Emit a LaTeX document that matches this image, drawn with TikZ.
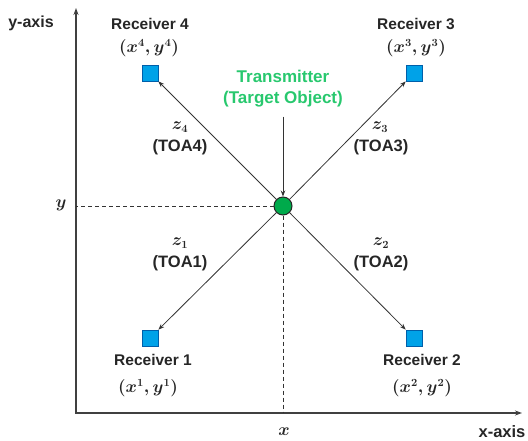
\documentclass[tikz,border=0pt]{standalone}
\usepackage{fontspec}
\setmainfont{Liberation Sans}
\usetikzlibrary{arrows.meta}
\definecolor{txgreen}{RGB}{40,200,110}
\definecolor{txfill}{RGB}{0,170,75}
\definecolor{rxblue}{RGB}{0,162,232}
\definecolor{rxborder}{RGB}{0,95,170}
\begin{document}
\begin{tikzpicture}[x=1pt,y=-1pt,
  lbl/.style={font=\fontsize{15.5}{17}\selectfont\bfseries, inner sep=0, text=black!85},
  toa/.style={font=\fontsize{16.5}{18}\selectfont\bfseries, inner sep=0, text=black!85},
  mth/.style={font=\fontsize{16}{18}\selectfont\boldmath, inner sep=0, text=black!85},
  rx/.style={draw=rxborder, fill=rxblue, minimum size=16pt, inner sep=0, line width=0.8pt},
  sig/.style={-{Stealth[length=6pt,width=4.5pt]}, line width=0.8pt, draw=black!80},
  axis/.style={line width=1.6pt, draw=black!75, {Stealth[length=7pt,width=5pt]}-{Stealth[length=7pt,width=5pt]}},
  guide/.style={line width=0.9pt, draw=black!80, dash pattern=on 4pt off 3pt}]
\useasboundingbox (0,0) rectangle (528,440);
% axes
\coordinate (O) at (76,413);
\coordinate (ytop) at (76,8);
\coordinate (xend) at (522,413);
\draw[axis] (ytop) -- (O) -- (xend);
% transmitter
\node[circle, draw=black!85, fill=txfill, minimum size=18pt, inner sep=0, line width=1pt] (T) at (283,206) {};
% guides
\draw[guide] (T.west) -- (T -| O);
\draw[guide] (T.south) -- (T |- O);
% receivers
\node[rx] (R4) at (150,73) {};
\node[rx] (R3) at (414,73) {};
\node[rx] (R1) at (150,338) {};
\node[rx] (R2) at (414,338) {};
\draw[sig] (T) -- (R4);
\draw[sig] (T) -- (R3);
\draw[sig] (T) -- (R1);
\draw[sig] (T) -- (R2);
% transmitter label
\node[inner sep=0, text=txgreen, align=center, font=\fontsize{17}{21}\selectfont\bfseries] (tx) at (283,89) {Transmitter\\(Target Object)};
\draw[sig] ([yshift=-9pt]tx.south) -- (T);
% axis labels
\node[lbl, font=\fontsize{16}{18}\selectfont\bfseries] (ya) at (31,23) {y-axis};
\node[lbl, font=\fontsize{16.5}{18}\selectfont\bfseries] (xa) at (502,432) {x-axis};
\node[mth] (yl) at (61,205) {$y$};
\node[mth] (xl) at (284,432) {$x$};
% receiver labels
\node[lbl] (n4) at (150,24) {Receiver 4};
\node[mth] (c4) at (149,48) {$(x^4,y^4)$};
\node[lbl] (n3) at (416,24) {Receiver 3};
\node[mth] (c3) at (416,48) {$(x^3,y^3)$};
\node[lbl] (n1) at (153,360) {Receiver 1};
\node[mth] (c1) at (148,388) {$(x^1,y^1)$};
\node[lbl] (n2) at (422,360) {Receiver 2};
\node[mth] (c2) at (422,388) {$(x^2,y^2)$};
% distance labels
\node[mth] (z4) at (180,127) {$z_4$};
\node[toa] (t4) at (180,147) {(TOA4)};
\node[mth] (z3) at (380,127) {$z_3$};
\node[toa] (t3) at (381,147) {(TOA3)};
\node[mth] (z1) at (180,243) {$z_1$};
\node[toa] (t1) at (180,263) {(TOA1)};
\node[mth] (z2) at (381,243) {$z_2$};
\node[toa] (t2) at (381,263) {(TOA2)};
\end{tikzpicture}
\end{document}
